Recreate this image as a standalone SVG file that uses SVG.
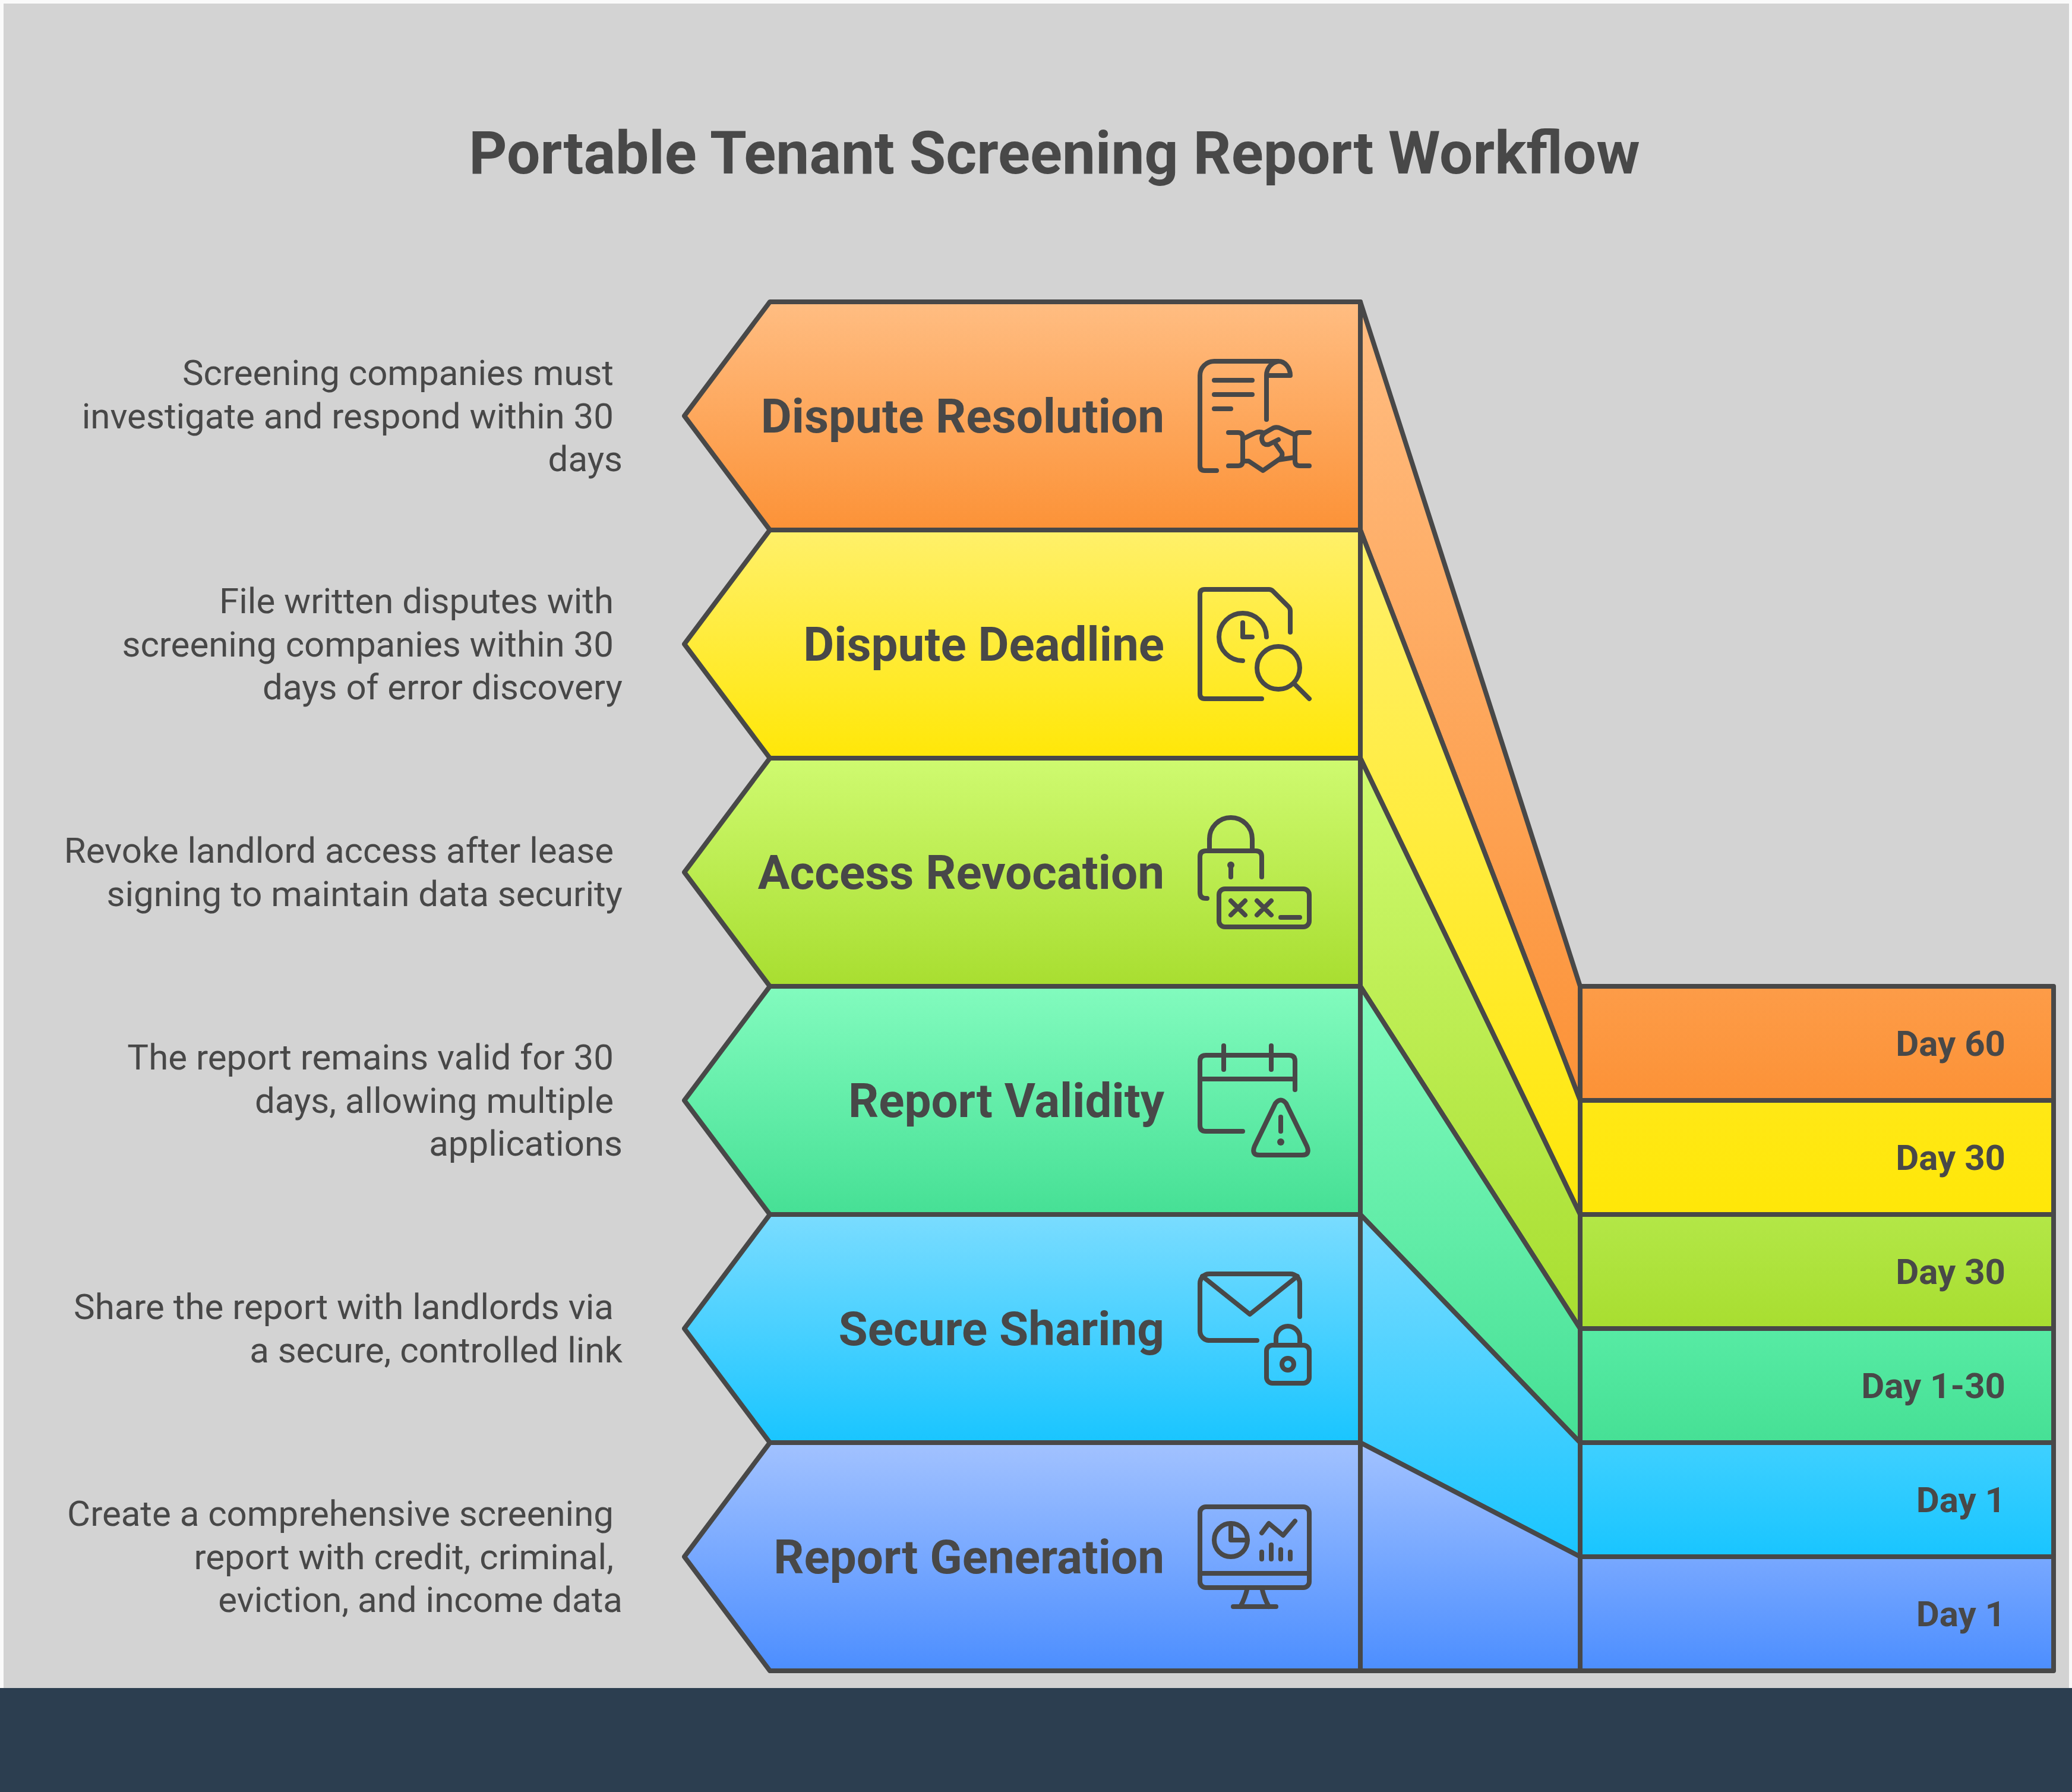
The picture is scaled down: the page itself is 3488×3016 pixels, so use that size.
<svg xmlns="http://www.w3.org/2000/svg" width="3488" height="3016" viewBox="0 0 3488 3016">
<style>
.s{stroke:#484848;stroke-width:8;stroke-linejoin:round}
.i{fill:none;stroke:#484848;stroke-width:8;stroke-linecap:round;stroke-linejoin:round}
.f{fill:#484848;stroke:none}
text{font-family:Roboto,"Liberation Sans",sans-serif;fill:#484848}
.t{font-size:100px;font-weight:700;text-anchor:middle}
.l{font-size:80px;font-weight:700;text-anchor:end}
.d{font-size:60px;font-weight:700;text-anchor:end}
.b{font-size:60px;text-anchor:end}
</style>
<defs>
<linearGradient id="go" x1="0" y1="0" x2="0" y2="1"><stop offset="0" stop-color="#FFBD82"/><stop offset="1" stop-color="#FC9237"/></linearGradient>
<linearGradient id="gy" x1="0" y1="0" x2="0" y2="1"><stop offset="0" stop-color="#FFF06A"/><stop offset="1" stop-color="#FFE708"/></linearGradient>
<linearGradient id="gl" x1="0" y1="0" x2="0" y2="1"><stop offset="0" stop-color="#CFFA70"/><stop offset="1" stop-color="#A8DE30"/></linearGradient>
<linearGradient id="gt" x1="0" y1="0" x2="0" y2="1"><stop offset="0" stop-color="#82FBBE"/><stop offset="1" stop-color="#46E095"/></linearGradient>
<linearGradient id="gc" x1="0" y1="0" x2="0" y2="1"><stop offset="0" stop-color="#7ADCFF"/><stop offset="1" stop-color="#19C5FF"/></linearGradient>
<linearGradient id="gb" x1="0" y1="0" x2="0" y2="1"><stop offset="0" stop-color="#A2C2FF"/><stop offset="1" stop-color="#4C8EFF"/></linearGradient>
<linearGradient id="ro" x1="0" y1="0" x2="0" y2="1"><stop offset="0" stop-color="#FD9C48"/><stop offset="1" stop-color="#FC9237"/></linearGradient>
<linearGradient id="ry" x1="0" y1="0" x2="0" y2="1"><stop offset="0" stop-color="#FFE816"/><stop offset="1" stop-color="#FFE708"/></linearGradient>
<linearGradient id="rl" x1="0" y1="0" x2="0" y2="1"><stop offset="0" stop-color="#B3E747"/><stop offset="1" stop-color="#A8DE30"/></linearGradient>
<linearGradient id="rt" x1="0" y1="0" x2="0" y2="1"><stop offset="0" stop-color="#57EBA4"/><stop offset="1" stop-color="#46E095"/></linearGradient>
<linearGradient id="rc" x1="0" y1="0" x2="0" y2="1"><stop offset="0" stop-color="#3FD0FF"/><stop offset="1" stop-color="#19C5FF"/></linearGradient>
<linearGradient id="rb" x1="0" y1="0" x2="0" y2="1"><stop offset="0" stop-color="#78A8FF"/><stop offset="1" stop-color="#4C8EFF"/></linearGradient>
</defs>
<rect width="3488" height="3016" fill="#FAFAFA"/>
<rect x="6" y="6" width="3477" height="2835" fill="#D3D3D3"/>
<rect x="0" y="2841" width="3488" height="175" fill="#2C3E50"/>
<text class="t" x="1775" y="292">Portable Tenant Screening Report Workflow</text>

<g id="connectors">
<polygon class="s" fill="url(#go)" points="2290,508 2660,1660 2660,1852 2290,892"/>
<polygon class="s" fill="url(#gy)" points="2290,892 2660,1852 2660,2044 2290,1276"/>
<polygon class="s" fill="url(#gl)" points="2290,1276 2660,2044 2660,2236 2290,1660"/>
<polygon class="s" fill="url(#gt)" points="2290,1660 2660,2236 2660,2428 2290,2044"/>
<polygon class="s" fill="url(#gc)" points="2290,2044 2660,2428 2660,2620 2290,2428"/>
<polygon class="s" fill="url(#gb)" points="2290,2428 2660,2620 2660,2812 2290,2812"/>
</g>

<g id="node-dispute-resolution">
<polygon class="s" fill="url(#go)" points="1296,508 2290,508 2290,892 1296,892 1152,700"/>
<rect class="s" fill="url(#ro)" x="2660" y="1660" width="797" height="192"/>
<text class="l" x="1960" y="728">Dispute Resolution</text>
<text class="d" x="3376" y="1777">Day 60</text>
<text class="b" x="1033" y="648">Screening companies must</text>
<text class="b" x="1033" y="721">investigate and respond within 30</text>
<text class="b" x="1048" y="793">days</text>
<g transform="translate(1960,560)">
<path class="i" d="M88 232H68Q60 232 60 224V72A24 24 0 0 1 84 48H192A20 24 0 0 1 212 72H172V146M172 72A24 24 0 0 1 192 48"/>
<path class="i" d="M84 80H148M84 104H148M84 128H112"/>
<path class="i" d="M108 168H124Q132 168 132 176V216Q132 224 124 224H108M244 168H228Q220 168 220 176V216Q220 224 228 224H244"/>
<path class="i" d="M134 178L152 169Q160 165 168 169L184 160Q190 158 196 161L218 171M134 216H142L166 232L192 214L218 210"/>
<path class="i" d="M192 180L176 188Q165 190 164 178Q164 172 170 168M188 188L198 202Q200 210 192 214"/>
</g>
</g>

<g id="node-dispute-deadline">
<polygon class="s" fill="url(#gy)" points="1296,892 2290,892 2290,1276 1296,1276 1152,1084"/>
<rect class="s" fill="url(#ry)" x="2660" y="1852" width="797" height="192"/>
<text class="l" x="1960" y="1112">Dispute Deadline</text>
<text class="d" x="3376" y="1969">Day 30</text>
<text class="b" x="1033" y="1032">File written disputes with</text>
<text class="b" x="1033" y="1105">screening companies within 30</text>
<text class="b" x="1048" y="1177">days of error discovery</text>
<g transform="translate(1960,950)">
<path class="i" d="M164 226H68Q60 226 60 218V50Q60 42 68 42H176Q180 42 183 45L209 71Q212 74 212 78V114"/>
<path class="i" d="M172 122A40 40 0 1 0 132 162M132 98V122H148"/>
<circle class="i" cx="192" cy="174" r="36"/>
<path class="i" d="M220 202L244 226"/>
</g>
</g>

<g id="node-access-revocation">
<polygon class="s" fill="url(#gl)" points="1296,1276 2290,1276 2290,1660 1296,1660 1152,1468"/>
<rect class="s" fill="url(#rl)" x="2660" y="2044" width="797" height="192"/>
<text class="l" x="1960" y="1496">Access Revocation</text>
<text class="d" x="3376" y="2161">Day 30</text>
<text class="b" x="1033" y="1452">Revoke landlord access after lease</text>
<text class="b" x="1048" y="1525">signing to maintain data security</text>
<g transform="translate(1960,1330)">
<path class="i" d="M72 182H70Q60 182 60 172V112Q60 102 70 102H154Q164 102 164 112V146M76 102V82A36 36 0 0 1 148 82V102"/>
<circle class="f" cx="112" cy="126" r="6"/>
<path class="i" d="M112 126V146"/>
<rect class="i" x="92" y="166" width="152" height="64" rx="10"/>
<path class="i" d="M112 186L136 210M136 186L112 210M156 186L180 210M180 186L156 210M196 214H228"/>
</g>
</g>

<g id="node-report-validity">
<polygon class="s" fill="url(#gt)" points="1296,1660 2290,1660 2290,2044 1296,2044 1152,1852"/>
<rect class="s" fill="url(#rt)" x="2660" y="2236" width="797" height="192"/>
<text class="l" x="1960" y="1880">Report Validity</text>
<text class="d" x="3376" y="2353">Day 1-30</text>
<text class="b" x="1033" y="1800">The report remains valid for 30</text>
<text class="b" x="1033" y="1873">days, allowing multiple</text>
<text class="b" x="1048" y="1945">applications</text>
<g transform="translate(1960,1720)">
<path class="i" d="M132 184H70Q60 184 60 174V66Q60 56 70 56H210Q220 56 220 66V114M60 96H220M100 40V80M180 40V80"/>
<path class="i" d="M187 137Q196 126 205 137L240 209Q246 224 232 224H160Q146 224 152 209Z"/>
<path class="i" d="M196 160V184"/>
<circle class="f" cx="196" cy="202" r="6"/>
</g>
</g>

<g id="node-secure-sharing">
<polygon class="s" fill="url(#gc)" points="1296,2044 2290,2044 2290,2428 1296,2428 1152,2236"/>
<rect class="s" fill="url(#rc)" x="2660" y="2428" width="797" height="192"/>
<text class="l" x="1960" y="2264">Secure Sharing</text>
<text class="d" x="3376" y="2545">Day 1</text>
<text class="b" x="1033" y="2220">Share the report with landlords via</text>
<text class="b" x="1048" y="2293">a secure, controlled link</text>
<g transform="translate(1960,2110)">
<path class="i" d="M156 146H76A16 16 0 0 1 60 130V50A16 16 0 0 1 76 34H212A16 16 0 0 1 228 50V106M64 38L144 102L224 38"/>
<rect class="i" x="172" y="154" width="72" height="64" rx="10"/>
<path class="i" d="M188 154V142A20 20 0 0 1 228 142V154"/>
<circle class="i" cx="208" cy="186" r="10"/>
</g>
</g>

<g id="node-report-generation">
<polygon class="s" fill="url(#gb)" points="1296,2428 2290,2428 2290,2812 1296,2812 1152,2620"/>
<rect class="s" fill="url(#rb)" x="2660" y="2620" width="797" height="192"/>
<text class="l" x="1960" y="2648">Report Generation</text>
<text class="d" x="3376" y="2737">Day 1</text>
<text class="b" x="1033" y="2568">Create a comprehensive screening</text>
<text class="b" x="1033" y="2641">report with credit, criminal,</text>
<text class="b" x="1048" y="2713">eviction, and income data</text>
<g transform="translate(1960,2500)">
<rect class="i" x="60" y="36" width="184" height="136" rx="10"/>
<path class="i" d="M60 148H244M140 172Q136 190 128 204M164 172Q168 190 176 204M116 204H188"/>
<circle class="i" cx="112" cy="92" r="28"/>
<path class="i" d="M112 64V92H140M164 80L176 64L200 84L220 60M164 112V124M180 100V124M196 108V124M212 112V124"/>
</g>
</g>
</svg>
